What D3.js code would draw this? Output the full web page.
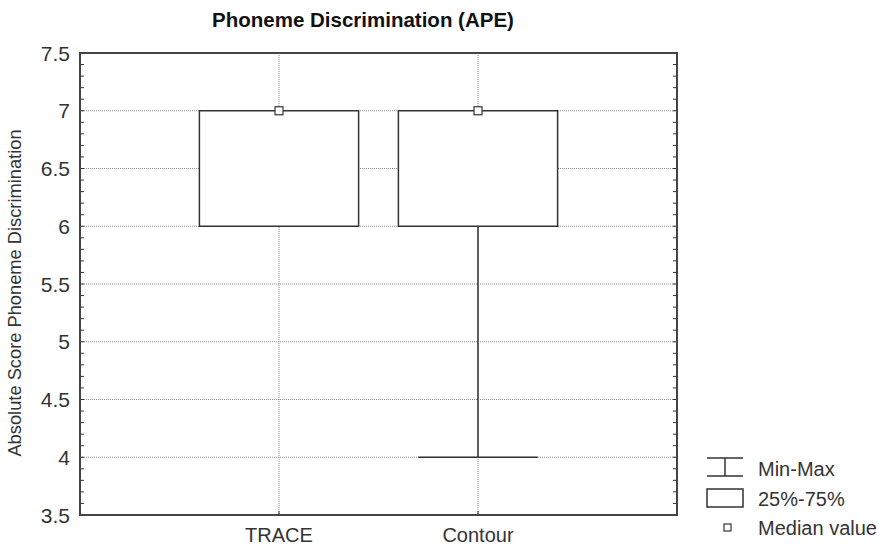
<!DOCTYPE html>
<html><head><meta charset="utf-8">
<script src="https://cdn.jsdelivr.net/npm/d3@7"></script>
<style>body{margin:0;background:#fff}svg{display:block}text{font-family:"Liberation Sans",Arial,sans-serif}</style>
</head><body><svg id="c" width="879" height="548"></svg>
<script>
const categories = ["TRACE", "Contour"];
const mins = [6, 4];
const q1 = [6, 6];
const medians = [7, 7];
const q3 = [7, 7];
const maxs = [7, 7];
const yTicks = [3.5, 4, 4.5, 5, 5.5, 6, 6.5, 7, 7.5];
const legendItems = ["Min-Max", "25%-75%", "Median value"];

const svg = d3.select("#c");
const L = 80, R = 677, T = 53, B = 515;
const y = d3.scaleLinear().domain([3.5, 7.5]).range([B, T]);
const x = d3.scaleLinear().domain([0, categories.length + 1]).range([L, R]);
const step = x(1) - x(0);
const grid = "#8a8a8a";

// horizontal gridlines
svg.append("g").selectAll("line").data(yTicks.slice(1, -1)).join("line")
  .attr("x1", L).attr("x2", R).attr("y1", d => y(d)).attr("y2", d => y(d))
  .attr("stroke", grid).attr("stroke-width", 1).attr("stroke-dasharray", "1,1");
// vertical gridlines
svg.append("g").selectAll("line").data(categories).join("line")
  .attr("x1", (d, i) => x(i + 1)).attr("x2", (d, i) => x(i + 1)).attr("y1", T).attr("y2", B)
  .attr("stroke", grid).attr("stroke-width", 1).attr("stroke-dasharray", "1,1");

// minor ticks
const minor = d3.range(35, 76).map(v => v / 10);
const mt = svg.append("g");
minor.forEach(v => {
  mt.append("line").attr("x1", L).attr("x2", L + 4).attr("y1", y(v)).attr("y2", y(v)).attr("stroke", "#333").attr("stroke-width", 1);
  mt.append("line").attr("x1", R - 4).attr("x2", R).attr("y1", y(v)).attr("y2", y(v)).attr("stroke", "#333").attr("stroke-width", 1);
});
categories.forEach((c, i) => {
  mt.append("line").attr("x1", x(i + 1)).attr("x2", x(i + 1)).attr("y1", B - 4).attr("y2", B).attr("stroke", "#333");
});

// boxes
const g = svg.append("g");
categories.forEach((c, i) => {
  const cx = x(i + 1), bw = step * 0.4, cw = step * 0.3;
  if (mins[i] < q1[i]) {
    g.append("line").attr("x1", cx).attr("x2", cx).attr("y1", y(q1[i])).attr("y2", y(mins[i])).attr("stroke", "#333").attr("stroke-width", 1.5);
    g.append("line").attr("x1", cx - cw).attr("x2", cx + cw).attr("y1", y(mins[i])).attr("y2", y(mins[i])).attr("stroke", "#333").attr("stroke-width", 1.5);
  }
  if (maxs[i] > q3[i]) {
    g.append("line").attr("x1", cx).attr("x2", cx).attr("y1", y(q3[i])).attr("y2", y(maxs[i])).attr("stroke", "#333").attr("stroke-width", 1.5);
    g.append("line").attr("x1", cx - cw).attr("x2", cx + cw).attr("y1", y(maxs[i])).attr("y2", y(maxs[i])).attr("stroke", "#333").attr("stroke-width", 1.5);
  }
  g.append("rect").attr("x", cx - bw).attr("width", 2 * bw).attr("y", y(q3[i])).attr("height", y(q1[i]) - y(q3[i]))
    .attr("fill", "#fff").attr("stroke", "#333").attr("stroke-width", 1.5);
  g.append("rect").attr("x", cx - 4).attr("y", y(medians[i]) - 4).attr("width", 8).attr("height", 8)
    .attr("fill", "#fff").attr("stroke", "#333").attr("stroke-width", 1.2);
});

// frame
svg.append("rect").attr("x", L).attr("y", T).attr("width", R - L).attr("height", B - T)
  .attr("fill", "none").attr("stroke", "#444").attr("stroke-width", 2);

// y tick labels
svg.append("g").selectAll("text").data(yTicks).join("text")
  .attr("x", L - 10).attr("y", d => y(d)).attr("dy", "0.36em").attr("text-anchor", "end")
  .attr("font-size", 21).attr("fill", "#333").text(d => d);
// x labels
svg.append("g").selectAll("text").data(categories).join("text")
  .attr("x", (d, i) => x(i + 1)).attr("y", 542).attr("text-anchor", "middle")
  .attr("font-size", 20).attr("fill", "#333").text(d => d);

// title
svg.append("text").attr("x", 363).attr("y", 27).attr("text-anchor", "middle")
  .attr("font-size", 20.5).attr("font-weight", "bold").attr("fill", "#111").text("Phoneme Discrimination (APE)");
// y label
svg.append("text").attr("transform", "translate(21,293) rotate(-90)").attr("text-anchor", "middle")
  .attr("font-size", 18.3).attr("fill", "#333").text("Absolute Score Phoneme Discrimination");

// legend
const lg = svg.append("g");
lg.append("line").attr("x1", 707).attr("x2", 743).attr("y1", 458).attr("y2", 458).attr("stroke", "#333").attr("stroke-width", 1.5);
lg.append("line").attr("x1", 707).attr("x2", 743).attr("y1", 476).attr("y2", 476).attr("stroke", "#333").attr("stroke-width", 1.5);
lg.append("line").attr("x1", 725).attr("x2", 725).attr("y1", 458).attr("y2", 476).attr("stroke", "#333").attr("stroke-width", 1.5);
lg.append("rect").attr("x", 707).attr("y", 489).attr("width", 36).attr("height", 18).attr("fill", "#fff").attr("stroke", "#333").attr("stroke-width", 1.5);
lg.append("rect").attr("x", 724).attr("y", 524).attr("width", 7).attr("height", 7).attr("fill", "#fff").attr("stroke", "#333").attr("stroke-width", 1.2);
lg.selectAll("text.l").data(legendItems).join("text").attr("class", "l")
  .attr("x", 758).attr("y", (d, i) => 469 + i * 29.5).attr("dy", "0.36em")
  .attr("font-size", 20).attr("fill", "#333").text(d => d);
</script></body></html>
